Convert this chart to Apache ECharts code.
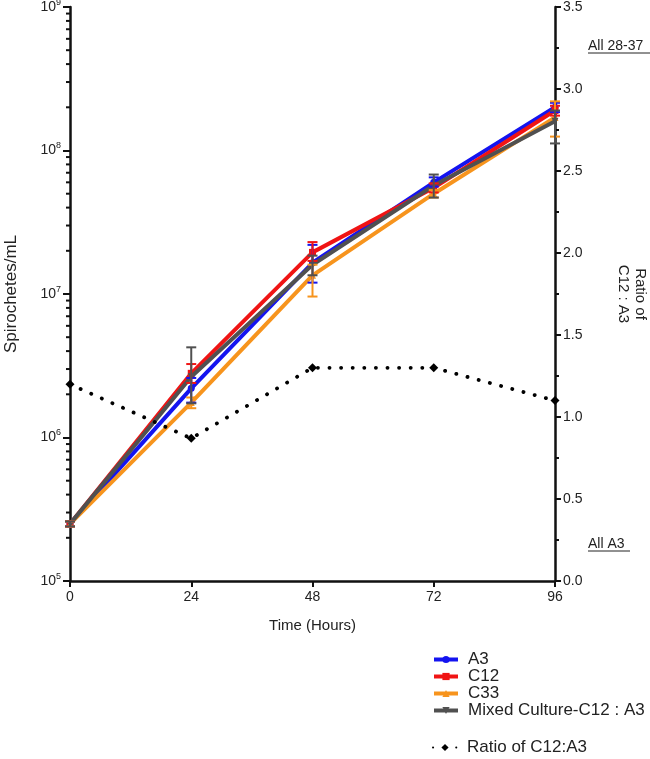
<!DOCTYPE html>
<html>
<head>
<meta charset="utf-8">
<script src="https://cdn.jsdelivr.net/npm/echarts@6/dist/echarts.min.js"></script>
<style>html,body{margin:0;padding:0;background:#fff}#c{width:650px;height:759px}</style>
</head>
<body>
<div id="c"></div>
<script>
// ---- data ----
const times = [0, 24, 48, 72, 96];
const a3 = [2.5e5, 2.2e6, 1.65e7, 6.0e7, 2.0e8];
const a3Low = [2.4e5, 1.75e6, 1.2e7, 5.6e7, 1.85e8];
const a3High = [2.6e5, 2.6e6, 2.2e7, 6.5e7, 2.15e8];
const c12 = [2.5e5, 2.8e6, 1.95e7, 5.5e7, 1.9e8];
const c12Low = [2.4e5, 2.4e6, 1.7e7, 5.1e7, 1.75e8];
const c12High = [2.6e5, 3.25e6, 2.3e7, 5.9e7, 2.05e8];
const c33 = [2.5e5, 1.75e6, 1.35e7, 5.0e7, 1.7e8];
const c33Low = [2.4e5, 1.6e6, 9.6e6, 4.7e7, 1.25e8];
const c33High = [2.6e5, 1.9e6, 1.6e7, 5.3e7, 2.2e8];
const mixed = [2.5e5, 2.65e6, 1.6e7, 5.7e7, 1.6e8];
const mixedLow = [2.4e5, 1.73e6, 1.35e7, 4.7e7, 1.12e8];
const mixedHigh = [2.6e5, 4.25e6, 1.85e7, 6.8e7, 1.9e8];
const ratio = [1.2, 0.87, 1.3, 1.3, 1.1];
const seriesNames = ['A3', 'C12', 'C33', 'Mixed Culture-C12 : A3'];
const ratioName = 'Ratio of C12:A3';
const logMinorTicks = [];
[5, 6, 7, 8].forEach(function (e) { for (let k = 2; k <= 9; k++) logMinorTicks.push(k * Math.pow(10, e)); });

// ---- chart ----
const chart = echarts.init(document.getElementById('c'), null, {renderer: 'canvas'});
const FONT = 'Liberation Sans, Arial, sans-serif';
const colors = ['#1414f0', '#f01414', '#f7941d', '#505050'];
const symbols = ['circle', 'rect', 'triangle', 'path://M0,0 L10,0 L5,10 Z'];
const means = [a3, c12, c33, mixed];
const lows = [a3Low, c12Low, c33Low, mixedLow];
const highs = [a3High, c12High, c33High, mixedHigh];

function pairs(ys) { return times.map(function (t, i) { return [t, ys[i]]; }); }

const series = [];
series.push({
  type: 'custom', silent: true, clip: false, z: 5,
  data: logMinorTicks.map(function (v) { return [0, v]; }),
  encode: {x: 0, y: 1},
  renderItem: function (params, api) {
    const p = api.coord([api.value(0), api.value(1)]);
    return {type: 'line', shape: {x1: p[0] - 4, y1: p[1], x2: p[0], y2: p[1]},
      style: {stroke: '#111', lineWidth: 2}};
  },
  tooltip: {show: false}
});
seriesNames.forEach(function (name, i) {
  series.push({
    name: name, type: 'line', data: pairs(means[i]),
    symbol: symbols[i], symbolSize: 7, showSymbol: true,
    lineStyle: {color: colors[i], width: 4},
    itemStyle: {color: colors[i]},
    z: 10 + i
  });
});
seriesNames.forEach(function (name, i) {
  series.push({
    type: 'custom', silent: true, z: 20 + i,
    data: times.map(function (t, j) { return [t, lows[i][j], highs[i][j]]; }),
    encode: {x: 0, y: [1, 2]},
    renderItem: function (params, api) {
      const x = api.value(0);
      const lo = api.coord([x, api.value(1)]);
      const hi = api.coord([x, api.value(2)]);
      const w = 5;
      const st = {stroke: colors[i], lineWidth: 2};
      return {type: 'group', children: [
        {type: 'line', shape: {x1: lo[0], y1: lo[1], x2: hi[0], y2: hi[1]}, style: st},
        {type: 'line', shape: {x1: lo[0] - w, y1: lo[1], x2: lo[0] + w, y2: lo[1]}, style: st},
        {type: 'line', shape: {x1: hi[0] - w, y1: hi[1], x2: hi[0] + w, y2: hi[1]}, style: st}
      ]};
    }
  });
});
series.push({
  name: ratioName, type: 'line', yAxisIndex: 1, data: pairs(ratio),
  symbol: 'diamond', symbolSize: 9,
  lineStyle: {color: '#000', width: 3.8, type: [0.1, 11.5], cap: 'round'},
  itemStyle: {color: '#000'},
  z: 30
});

const option = {
  backgroundColor: '#fff',
  animation: false,
  textStyle: {fontFamily: FONT},
  grid: {left: 70, right: 95, top: 7, bottom: 178, containLabel: false, outerBoundsMode: 'none'},
  legend: [
    {
      data: seriesNames, orient: 'vertical', left: 432, top: 651, padding: 0,
      itemWidth: 24, itemHeight: 9, itemGap: 0,
      lineStyle: {width: 4},
      textStyle: {fontSize: 17, color: '#222', fontFamily: FONT, lineHeight: 16, padding: [0, 0, 0, 5]},
      selectedMode: false
    },
    {
      data: [ratioName], orient: 'vertical', left: 432, top: 739, padding: 0,
      itemWidth: 24, itemHeight: 9,
      textStyle: {fontSize: 17, color: '#222', fontFamily: FONT, lineHeight: 16, padding: [0, 0, 0, 5]},
      selectedMode: false
    }
  ],
  xAxis: {
    type: 'value', min: 0, max: 96, interval: 24,
    name: 'Time (Hours)', nameLocation: 'middle', nameGap: 37,
    nameTextStyle: {fontSize: 15, color: '#222', fontFamily: FONT},
    axisLine: {show: true, lineStyle: {color: '#111', width: 2.5}},
    axisTick: {show: true, length: 6, lineStyle: {width: 2, color: '#111'}},
    axisLabel: {fontSize: 14, color: '#222', margin: 9, fontFamily: FONT},
    splitLine: {show: false}
  },
  yAxis: [
    {
      type: 'log', logBase: 10, min: 1e5, max: 1e9, position: 'left',
      name: 'Spirochetes/mL', nameLocation: 'middle', nameGap: 50,
      nameTextStyle: {fontSize: 17, color: '#222', fontFamily: FONT},
      axisLine: {show: true, lineStyle: {color: '#111', width: 2.5}},
      axisTick: {show: true, length: 7, lineStyle: {width: 2, color: '#111'}},
      axisLabel: {
        margin: 9, color: '#222',
        formatter: function (v) {
          const e = Math.round(Math.log10(v));
          return '{b|10}{s|' + e + '}';
        },
        rich: {
          b: {fontSize: 14, color: '#222', fontFamily: FONT, lineHeight: 18},
          s: {fontSize: 9, color: '#222', fontFamily: FONT, verticalAlign: 'top', lineHeight: 18, padding: [0, 0, 7, 0]}
        }
      },
      splitLine: {show: false}
    },
    {
      type: 'value', min: 0, max: 3.5, interval: 0.5, position: 'right',
      name: 'Ratio of\nC12 : A3', nameLocation: 'middle', nameRotate: -90, nameGap: 60,
      nameTextStyle: {fontSize: 15, color: '#222', fontFamily: FONT, lineHeight: 17},
      axisLine: {show: true, lineStyle: {color: '#111', width: 2.5}},
      axisTick: {show: true, length: 6, lineStyle: {width: 2, color: '#111'}},
      minorTick: {show: true, splitNumber: 2, length: 4, lineStyle: {width: 2, color: '#111'}},
      axisLabel: {fontSize: 14, color: '#222', margin: 8, fontFamily: FONT,
        formatter: function (v) { return v.toFixed(1); }},
      splitLine: {show: false}
    }
  ],
  graphic: [
    {type: 'text', left: 588, top: 39, style: {text: 'All 28-37', font: '14px ' + FONT, fill: '#222'}},
    {type: 'line', shape: {x1: 588, y1: 53, x2: 650, y2: 53}, style: {stroke: '#222', lineWidth: 1}},
    {type: 'text', left: 588, top: 537, style: {text: 'All A3', font: '14px ' + FONT, fill: '#222'}},
    {type: 'line', shape: {x1: 588, y1: 551, x2: 630, y2: 551}, style: {stroke: '#222', lineWidth: 1}}
  ],
  series: series
};
chart.setOption(option);
</script>
</body>
</html>
